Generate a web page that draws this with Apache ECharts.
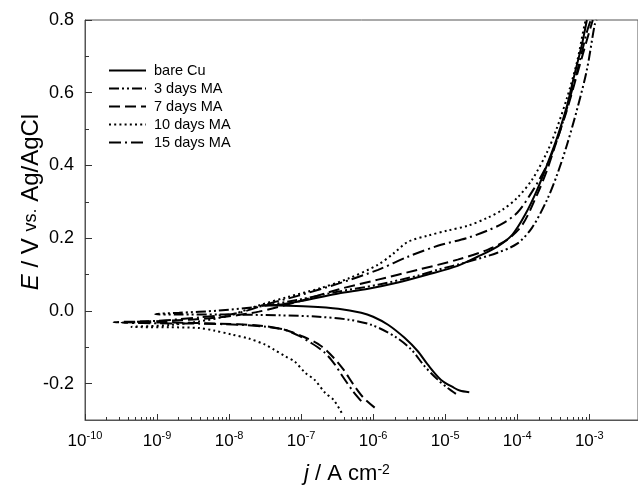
<!DOCTYPE html>
<html><head><meta charset="utf-8">
<script src="https://cdn.jsdelivr.net/npm/echarts@6/dist/echarts.min.js"></script>
<style>html,body{margin:0;padding:0;background:#fff}#c{width:638px;height:489px}</style>
</head><body><div id="c"></div>
<script>
// ---- data (current density j in A cm^-2, potential E in V vs Ag/AgCl) ----
const seriesNames = ['bare Cu', '3 days MA', '7 days MA', '10 days MA', '15 days MA'];

const jBare = [2.16e-5, 1.59e-5, 1.34e-5, 8.69e-6, 5.74e-6, 4.17e-6, 2.73e-6, 1.61e-6, 1.0e-6, 6.83e-7, 3.28e-7, 1.26e-7, 4.88e-8, 2.75e-8, 4.88e-8, 9.21e-8, 1.74e-7, 3.28e-7, 8.55e-7, 2.21e-6, 5.74e-6, 1.49e-5, 2.81e-5, 5.31e-5, 8.57e-5, 1.29e-4, 1.89e-4, 2.60e-4, 3.57e-4, 4.91e-4, 6.22e-4, 7.9e-4, 9.27e-4];
const eBare = [-0.224, -0.219, -0.212, -0.189, -0.148, -0.111, -0.074, -0.038, -0.016, -0.005, 0.006, 0.012, 0.0146, 0.015, 0.017, 0.026, 0.037, 0.048, 0.061, 0.078, 0.100, 0.124, 0.149, 0.177, 0.210, 0.265, 0.333, 0.402, 0.476, 0.564, 0.649, 0.732, 0.800];

const j3 = [1.41e-5, 1.08e-5, 7.88e-6, 5.17e-6, 3.38e-6, 1.99e-6, 9.38e-7, 4.51e-7, 1.74e-7, 4.88e-8, 7.24e-9, 2.03e-9, 9.46e-10, 2.03e-9, 7.24e-9, 2.58e-8, 9.21e-8, 3.28e-7, 1.17e-6, 4.17e-6, 7.88e-6, 2.05e-5, 5.31e-5, 1.0e-4, 1.61e-4, 2.60e-4, 3.57e-4, 4.91e-4, 6.75e-4, 9.27e-4, 1.19e-3, 1.27e-3];
const e3 = [-0.228, -0.212, -0.189, -0.152, -0.106, -0.070, -0.038, -0.024, -0.016, -0.012, -0.010, -0.010, -0.009, -0.005, 0.001, 0.012, 0.031, 0.053, 0.072, 0.097, 0.113, 0.135, 0.160, 0.185, 0.229, 0.306, 0.374, 0.457, 0.553, 0.663, 0.787, 0.800];

const j7 = [1.05e-6, 7.28e-7, 5.30e-7, 3.86e-7, 2.81e-7, 1.85e-7, 1.08e-7, 5.73e-8, 2.58e-8, 7.24e-9, 1.48e-9, 2.50e-10, 1.48e-9, 7.24e-9, 2.58e-8, 9.21e-8, 3.28e-7, 1.17e-6, 4.17e-6, 1.49e-5, 3.86e-5, 7.29e-5, 1.18e-4, 1.89e-4, 2.60e-4, 3.57e-4, 4.91e-4, 6.75e-4, 9.27e-4, 1.12e-3];
const e7 = [-0.266, -0.238, -0.202, -0.161, -0.128, -0.095, -0.071, -0.051, -0.040, -0.035, -0.032, -0.031, -0.027, -0.018, -0.002, 0.026, 0.059, 0.086, 0.113, 0.141, 0.168, 0.196, 0.237, 0.320, 0.388, 0.470, 0.553, 0.649, 0.745, 0.800];

const j10 = [3.65e-7, 2.81e-7, 2.15e-7, 1.53e-7, 1.14e-7, 8.11e-8, 6.04e-8, 4.16e-8, 3.19e-8, 1.88e-8, 1.09e-8, 6.18e-9, 3.83e-9, 1.48e-9, 4.42e-10, 1.48e-9, 3.83e-9, 9.97e-9, 2.58e-8, 6.70e-8, 1.74e-7, 4.51e-7, 1.17e-6, 1.89e-6, 3.04e-6, 5.74e-6, 1.08e-5, 2.05e-5, 3.86e-5, 6.22e-5, 1.0e-4, 1.61e-4, 2.60e-4, 3.57e-4, 4.91e-4, 6.75e-4, 8.6e-4, 9.0e-4];
const e10 = [-0.280, -0.244, -0.225, -0.189, -0.170, -0.139, -0.125, -0.106, -0.093, -0.076, -0.065, -0.054, -0.047, -0.045, -0.044, -0.039, -0.029, -0.013, 0.015, 0.039, 0.061, 0.089, 0.127, 0.157, 0.190, 0.207, 0.221, 0.234, 0.256, 0.278, 0.311, 0.361, 0.437, 0.504, 0.586, 0.684, 0.787, 0.800];

const j15 = [6.83e-7, 5.30e-7, 3.86e-7, 2.81e-7, 2.05e-7, 1.35e-7, 9.21e-8, 5.73e-8, 3.03e-8, 1.37e-8, 3.83e-9, 1.07e-9, 3.22e-10, 1.07e-9, 3.83e-9, 1.37e-8, 3.55e-8, 9.21e-8, 3.28e-7, 1.17e-6, 3.04e-6, 7.88e-6, 2.05e-5, 3.86e-5, 6.22e-5, 1.0e-4, 1.61e-4, 2.60e-4, 3.57e-4, 4.91e-4, 6.75e-4, 9.27e-4, 1.05e-3];
const e15 = [-0.248, -0.222, -0.183, -0.142, -0.112, -0.087, -0.068, -0.051, -0.043, -0.038, -0.035, -0.034, -0.032, -0.027, -0.018, -0.005, 0.020, 0.042, 0.075, 0.113, 0.149, 0.179, 0.201, 0.221, 0.240, 0.270, 0.328, 0.402, 0.470, 0.558, 0.657, 0.767, 0.800];

// axis ranges and tick values
const xMin = 1e-10;
const xMax = 4.75e-3;
const yMin = -0.3;
const yMax = 0.8;
const yLabelValues = [-0.2, 0.0, 0.2, 0.4, 0.6, 0.8];
const yMinorValues = [-0.1, 0.1, 0.3, 0.5, 0.7];
const xMinorMultipliers = [2, 3, 4, 5, 6, 7, 8, 9];
const xMinorDecades = [-10, -9, -8, -7, -6, -5, -4];

// ---- build ----
const FONT = '"Liberation Sans", Arial, Helvetica, sans-serif';
const J = [jBare, j3, j7, j10, j15];
const E = [eBare, e3, e7, e10, e15];
const dashes = ['solid', [10, 3, 2, 3, 2, 3], [11, 5], [2, 3.2], [12, 4, 2, 4]];

function zip(a, b) {
  const n = Math.min(a.length, b.length);
  const out = [];
  for (let i = 0; i < n; i++) out.push([a[i], b[i]]);
  return out;
}
// minor tick positions, expressed on a hidden linear log10 axis
const xMinorLog = [];
xMinorDecades.forEach(d => xMinorMultipliers.forEach(m => xMinorLog.push(Math.log10(m) + d)));

const gridBox = {left: 85, top: 20, width: 556, height: 400};

const chart = echarts.init(document.getElementById('c'), null, {renderer: 'canvas'});
chart.setOption({
  animation: false,
  backgroundColor: '#fff',
  grid: [
    Object.assign({show: true, borderColor: '#555', borderWidth: 1, backgroundColor: 'transparent', containLabel: false}, gridBox),
    Object.assign({show: false, containLabel: false}, gridBox)
  ],
  legend: {
    orient: 'vertical', left: 108, top: 63, padding: 0,
    itemWidth: 37, itemHeight: 12, itemGap: 3,
    itemStyle: {opacity: 0},
    textStyle: {fontSize: 14.5, fontFamily: FONT, color: '#000', padding: [0, 0, 0, 3]},
    data: seriesNames
  },
  xAxis: [
    {
      type: 'log', gridIndex: 0, min: xMin, max: xMax, logBase: 10,
      axisLine: {show: true, onZero: false, lineStyle: {color: '#555', width: 1}},
      axisTick: {show: true, inside: true, length: 6, lineStyle: {color: '#333'}},
      splitLine: {show: false}, minorTick: {show: false},
      axisLabel: {
        show: true, margin: 10, showMaxLabel: false, color: '#000',
        formatter: function (v) { return '{b|10}{s|' + Math.round(Math.log10(v)) + '}'; },
        rich: {
          b: {fontSize: 17, fontFamily: FONT, color: '#000', lineHeight: 22},
          s: {fontSize: 11, fontFamily: FONT, color: '#000', lineHeight: 11, verticalAlign: 'top'}
        }
      }
    },
    {
      type: 'value', gridIndex: 1, min: Math.log10(xMin), max: Math.log10(xMax), position: 'bottom',
      axisLine: {show: false, onZero: false}, splitLine: {show: false}, axisLabel: {show: false},
      axisTick: {show: true, inside: true, length: 3, customValues: xMinorLog, lineStyle: {color: '#333'}}
    }
  ],
  yAxis: [
    {
      type: 'value', gridIndex: 0, min: yMin, max: yMax,
      axisLine: {show: true, onZero: false, lineStyle: {color: '#555', width: 1}},
      axisTick: {show: true, inside: true, length: 7, customValues: yLabelValues, lineStyle: {color: '#333'}},
      splitLine: {show: false},
      axisLabel: {
        show: true, margin: 11, customValues: yLabelValues, color: '#000',
        fontSize: 18, fontFamily: FONT,
        formatter: function (v) { return v.toFixed(1); }
      }
    },
    {
      type: 'value', gridIndex: 1, min: yMin, max: yMax, position: 'left',
      axisLine: {show: false, onZero: false}, splitLine: {show: false}, axisLabel: {show: false},
      axisTick: {show: true, inside: true, length: 4, customValues: yMinorValues, lineStyle: {color: '#333'}}
    }
  ],
  graphic: [
    {
      type: 'text', x: 31, y: 202, rotation: Math.PI / 2,
      style: {
        text: '{i|E} / V {v|vs.} Ag/AgCl',
        align: 'center', verticalAlign: 'middle', textAlign: 'center', textVerticalAlign: 'middle',
        fill: '#000', font: '24px ' + FONT,
        rich: {
          i: {fontSize: 24, fontStyle: 'italic', fontFamily: FONT, fill: '#000'},
          v: {fontSize: 18, fontFamily: FONT, fill: '#000'}
        }
      }
    },
    {
      type: 'text', x: 347, y: 474,
      style: {
        text: '{i|j} / A cm{s|-2}',
        align: 'center', verticalAlign: 'middle', textAlign: 'center', textVerticalAlign: 'middle',
        fill: '#000', font: '22px ' + FONT,
        rich: {
          i: {fontSize: 22, fontStyle: 'italic', fontFamily: FONT, fill: '#000'},
          s: {fontSize: 14, fontFamily: FONT, fill: '#000', verticalAlign: 'top', lineHeight: 14}
        }
      }
    }
  ],
  series: seriesNames.map((name, i) => ({
    name: name, type: 'line', xAxisIndex: 0, yAxisIndex: 0,
    data: zip(J[i], E[i]),
    symbol: 'none', showSymbol: false, smooth: 0.3, clip: true,
    lineStyle: {color: '#000', width: 2, type: dashes[i], cap: 'butt'},
    itemStyle: {color: '#000'}
  }))
});
</script>
</body></html>
